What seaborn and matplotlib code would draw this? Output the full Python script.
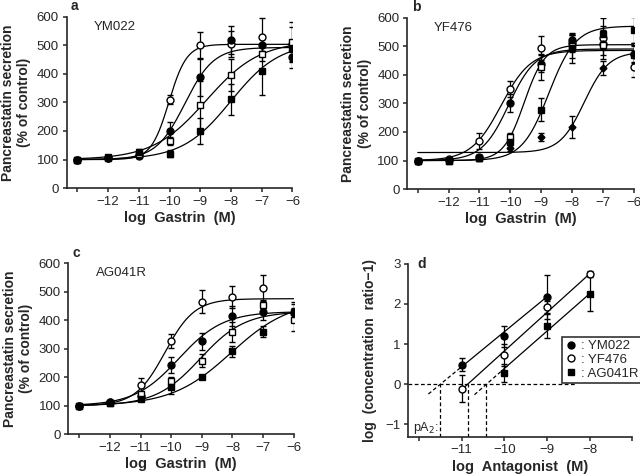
import numpy as np
import matplotlib
matplotlib.use('Agg')
import matplotlib.pyplot as plt
from matplotlib.lines import Line2D
import seaborn as sns

# log gastrin concentrations (M)
log_gastrin = [-13, -12, -11, -10, -9, -8, -7, -6]

# panel a: YM022 (values in % of control, SEM)
a_ctrl = [100, 105, 112, 310, 500, 505, 530, 505]
a_ctrl_err = [0, 5, 8, 16, 45, 45, 65, 60]
a_low = [100, 107, 115, 200, 388, 518, 501, 460]
a_low_err = [0, 5, 8, 32, 65, 50, 20, 40]
a_mid = [100, 106, 118, 165, 290, 396, 469, 510]
a_mid_err = [0, 5, 8, 15, 85, 55, 25, 70]
a_high = [100, 108, 128, 120, 200, 311, 410, 486]
a_high_err = [0, 5, 10, 12, 45, 55, 85, 30]
# fitted curves: bottom, top, log EC50, hill slope
a_fits = [(100, 503, -10.02, 1.5), (100, 492, -9.5, 0.93),
          (100, 515, -8.8, 0.5), (100, 510, -8.0, 0.55)]

# panel b: YF476
b_ctrl = [100, 105, 170, 350, 494, 510, 530, 428]
b_ctrl_err = [0, 5, 28, 28, 42, 30, 40, 35]
b_low = [100, 102, 112, 300, 439, 521, 509, 474]
b_low_err = [0, 5, 8, 32, 30, 25, 40, 30]
b_mid = [100, 100, 110, 183, 428, 500, 505, 470]
b_mid_err = [0, 5, 8, 15, 45, 40, 50, 40]
b_high = [100, 98, 110, 166, 277, 492, 544, 556]
b_high_err = [0, 5, 10, 12, 40, 50, 55, 45]
b_top_x = [-10, -9, -8, -7, -6]
b_top = [145, 183, 218, 424, 470]
b_top_err = [10, 15, 38, 25, 30]
b_fits = [(100, 485, -10.3, 0.9), (100, 490, -10.05, 1.0),
          (100, 505, -9.55, 1.3), (100, 570, -8.75, 1.0),
          (128, 480, -7.6, 1.1)]

# panel c: AG041R
c_ctrl_x = [-13, -12, -11, -10, -9, -8, -7]
c_ctrl = [100, 112, 173, 327, 465, 481, 512]
c_ctrl_err = [0, 5, 25, 25, 40, 40, 45]
c_low = [100, 112, 135, 241, 325, 413, 427, 425]
c_low_err = [0, 5, 8, 28, 30, 35, 25, 30]
c_mid = [100, 110, 140, 185, 258, 358, 454, 401]
c_mid_err = [0, 5, 10, 15, 22, 35, 15, 40]
c_high = [100, 110, 125, 165, 200, 290, 360, 430]
c_high_err = [0, 5, 8, 25, 8, 20, 20, 35]
c_fits = [(100, 475, -10.2, 0.9), (100, 430, -9.75, 0.6),
          (100, 430, -9.05, 0.6), (100, 470, -8.05, 0.45)]

# panel d: Schild plot
antagonists = ['YM022', 'YF476', 'AG041R']
ym_x = [-11, -10, -9]
ym_y = [0.49, 1.19, 2.17]
ym_err = [0.17, 0.26, 0.55]
yf_x = [-11, -10, -9, -8]
yf_y = [-0.11, 0.72, 1.92, 2.74]
yf_err = [0.33, 0.27, 0.15, 0.08]
ag_x = [-10, -9, -8]
ag_y = [0.28, 1.45, 2.25]
ag_err = [0.23, 0.30, 0.43]
# regression: slope, pA2, solid start, solid end, dashed start
schild_slope = [0.87, 0.96, 0.93]
pa2 = [11.5, 10.86, 10.42]
solid_from = [-11.0, -11.05, -10.0]
solid_to = [-9.0, -8.0, -8.0]
dash_from = [-11.78, None, -10.7]

sns.set_style('ticks')
plt.rcParams['font.family'] = ['Liberation Sans', 'DejaVu Sans']
plt.rcParams['axes.linewidth'] = 1.2
plt.rcParams['xtick.major.size'] = 3
plt.rcParams['ytick.major.size'] = 3
plt.rcParams['xtick.major.width'] = 1.1
plt.rcParams['ytick.major.width'] = 1.1

STYLES = {
    'oc': dict(marker='o', mfc='white'),
    'fc': dict(marker='o', mfc='black'),
    'os': dict(marker='s', mfc='white'),
    'fs': dict(marker='s', mfc='black'),
    'fd': dict(marker='D', mfc='black', ms=3.5),
}


def hill(x, bottom, top, logec50, slope):
    return bottom + (top - bottom) / (1 + 10 ** ((logec50 - x) * slope))


def draw_points(ax, x, y, err, style):
    kw = dict(ms=5, mec='black', mew=1.0)
    kw.update(STYLES[style])
    ax.errorbar(x, y, yerr=err, ls='none', ecolor='black', elinewidth=0.9,
                capsize=2.5, capthick=0.9, zorder=3, **kw)


def dose_panel(ax, series, fits, letter, name):
    grid = np.linspace(-13, -6, 300)
    for p in fits:
        sns.lineplot(x=grid, y=hill(grid, *p), ax=ax, color='black', lw=0.9)
    for x, y, err, style in series:
        draw_points(ax, x, y, err, style)
    ax.set_xlim(-13.35, -6)
    ax.set_ylim(0, 600)
    ax.set_xticks(log_gastrin)
    ax.set_xticklabels([''] + [f'\u2212{-v}' for v in log_gastrin[1:]])
    ax.set_yticks(range(0, 601, 100))
    ax.tick_params(labelsize=9.5, pad=2.5)
    ax.set_xlabel('log  Gastrin  (M)', fontsize=10.5, fontweight='bold',
                  labelpad=2.5)
    ax.set_ylabel('Pancreastatin secretion\n(% of control)', fontsize=10,
                  fontweight='bold', labelpad=4)
    ax.text(0.02, 1.02, letter, transform=ax.transAxes, fontsize=10,
            fontweight='bold', va='bottom')
    ax.text(0.12, 0.94, name, transform=ax.transAxes, fontsize=9.5, va='center')
    sns.despine(ax=ax)


fig = plt.figure(figsize=(6.4, 4.74), dpi=100)
ax_a = fig.add_axes([0.104, 0.603, 0.353, 0.362])
ax_b = fig.add_axes([0.636, 0.601, 0.354, 0.362])
ax_c = fig.add_axes([0.107, 0.084, 0.352, 0.361])
ax_d = fig.add_axes([0.638, 0.079, 0.350, 0.365])

dose_panel(ax_a, [(log_gastrin, a_ctrl, a_ctrl_err, 'oc'),
                  (log_gastrin, a_low, a_low_err, 'fc'),
                  (log_gastrin, a_mid, a_mid_err, 'os'),
                  (log_gastrin, a_high, a_high_err, 'fs')],
           a_fits, 'a', 'YM022')
dose_panel(ax_b, [(log_gastrin, b_ctrl, b_ctrl_err, 'oc'),
                  (log_gastrin, b_low, b_low_err, 'fc'),
                  (log_gastrin, b_mid, b_mid_err, 'os'),
                  (log_gastrin, b_high, b_high_err, 'fs'),
                  (b_top_x, b_top, b_top_err, 'fd')],
           b_fits, 'b', 'YF476')
dose_panel(ax_c, [(c_ctrl_x, c_ctrl, c_ctrl_err, 'oc'),
                  (log_gastrin, c_low, c_low_err, 'fc'),
                  (log_gastrin, c_mid, c_mid_err, 'os'),
                  (log_gastrin, c_high, c_high_err, 'fs')],
           c_fits, 'c', 'AG041R')

# panel d
ax = ax_d
ax.set_xlim(-12.25, -7.05)
ax.set_ylim(-1.3, 3.0)
ax.axhline(0, xmin=0, xmax=(-8.35 + 12.25) / 5.2, color='black', lw=0.9,
           ls=(0, (3, 2)))
for k in range(3):
    ax.plot([-pa2[k], -pa2[k]], [-1.3, 0], color='black', lw=0.9, ls=(0, (3, 2)))
    xs = np.array([solid_from[k], solid_to[k]])
    sns.lineplot(x=xs, y=schild_slope[k] * (xs + pa2[k]), ax=ax, color='black', lw=0.9)
    if dash_from[k] is not None:
        xd = np.array([dash_from[k], solid_from[k]])
        ax.plot(xd, schild_slope[k] * (xd + pa2[k]), color='black', lw=0.9,
                ls=(0, (3, 2)))
draw_points(ax, ym_x, ym_y, ym_err, 'fc')
draw_points(ax, yf_x, yf_y, yf_err, 'oc')
draw_points(ax, ag_x, ag_y, ag_err, 'fs')
ax.set_xticks([-12, -11, -10, -9, -8, -7])
ax.set_xticklabels(['', '\u221211', '\u221210', '\u22129', '\u22128', ''])
ax.set_yticks([-1, 0, 1, 2, 3])
ax.set_yticklabels(['\u22121', '0', '1', '2', '3'])
ax.tick_params(labelsize=9.5, pad=2.5)
ax.set_xlabel('log  Antagonist  (M)', fontsize=10.5, fontweight='bold',
              labelpad=2.5)
ax.set_ylabel('log  (concentration  ratio\u22121)', fontsize=10,
              fontweight='bold', labelpad=6)
ax.text(-11.55, -1.08, 'pA$_2$:', fontsize=9, ha='right', va='center')
ax.text(0.04, 1.0, 'd', transform=ax.transAxes, fontsize=10,
        fontweight='bold', va='center')
sns.despine(ax=ax)
handles = [Line2D([], [], ls='none', mec='black', ms=5, **STYLES[s])
           for s in ['fc', 'oc', 'fs']]
leg = ax.legend(handles, [': ' + n for n in antagonists], loc='upper left',
                bbox_to_anchor=(0.686, 0.576), fontsize=9.5, frameon=True,
                fancybox=False, edgecolor='black', labelspacing=0.1,
                borderpad=0.25, handlelength=0.8, handletextpad=0.4,
                borderaxespad=0)
leg.get_frame().set_linewidth(1.2)
leg.set_clip_on(False)

fig.savefig('out.png', dpi=100)
